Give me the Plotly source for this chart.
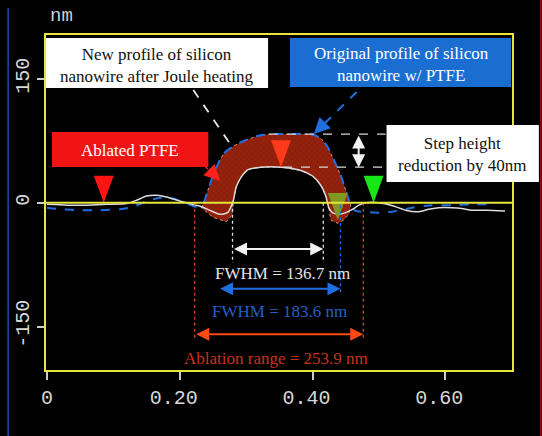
import plotly.graph_objects as go

# ---- height profiles (x in µm, height in nm) ----
orig_x = [0.000, 0.020, 0.050, 0.080, 0.110, 0.130, 0.150, 0.170, 0.190, 0.210, 0.225, 0.235,
          0.240, 0.2475, 0.2565, 0.2655, 0.282, 0.297, 0.318, 0.3375, 0.3675, 0.3975, 0.4125,
          0.423, 0.432, 0.4425, 0.450, 0.4575, 0.465, 0.480, 0.500, 0.520, 0.550, 0.580,
          0.610, 0.640, 0.668]
orig_nm = [-6, -8, -9, -9, -8, -5, 2, 6, 5, -1, -5, -2,
           9, 27, 45, 59, 69, 75, 81, 83, 83, 83, 78,
           67, 52, 33, 15, -3, -10, -11, -12, -11, -6, -3,
           -3, -2, -2]

new_x = [0.000, 0.030, 0.060, 0.090, 0.120, 0.135, 0.150, 0.165, 0.180, 0.200, 0.215, 0.230,
         0.245, 0.260, 0.272, 0.2805, 0.285, 0.2925, 0.303, 0.3225, 0.3525, 0.3825, 0.4005,
         0.4125, 0.420, 0.4245, 0.430, 0.440, 0.450, 0.460, 0.470, 0.480, 0.500, 0.522,
         0.540, 0.558, 0.575, 0.590, 0.610, 0.625, 0.640, 0.663, 0.690]
new_nm = [-2, -3, -3, -2, -1, 3, 8, 9, 7, 2, -1, -4,
          -9, -14, -12, 2, 19, 31, 40, 43, 43, 39, 32,
          21, 8, -6, -12, -14, -12, -8, -3, 0, 0, -4,
          -9, -11, -8, -6, -6, -7, -9, -9, -10]

# outline of the ablated PTFE band
abl_x = [0.2325, 0.2355, 0.240, 0.2475, 0.2565, 0.2655, 0.282, 0.297, 0.318, 0.3375, 0.3675,
         0.3975, 0.4125, 0.423, 0.432, 0.4425, 0.450, 0.4575, 0.4545, 0.447, 0.438, 0.4275,
         0.4245, 0.420, 0.4125, 0.4005, 0.3825, 0.3525, 0.3225, 0.303, 0.2925, 0.285, 0.2805,
         0.279, 0.270, 0.2505, 0.2325]
abl_nm = [-6, -1, 9, 27, 45, 59, 69, 75, 81, 83, 83,
          83, 78, 67, 52, 33, 15, -3, -14, -21, -25, -21,
          -6, 8, 21, 32, 39, 43, 43, 40, 31, 19, 2,
          -15, -23, -18, -6]

# measured widths (µm) and their centres
fwhm_new = 0.1367
fwhm_orig = 0.1836
ablation = 0.2539
centre_new = 0.34785
centre_orig = 0.3503
centre_abl = 0.3495

# triangle markers: apex x, apex y
mark_x = [0.0855, 0.3525, 0.492, 0.438]
mark_nm = [0, 43, 0, -21]
mark_color = ["#ff1414", "#ff3a1a", "#17e617", "#7f9a1e"]

x_ticks = [0, 0.2, 0.4, 0.6]
x_ticktext = ["0", "0.20\u00a0", "0.40\u00a0", "0.60\u00a0"]
y_ticks = [-150, 0, 150]
y_ticktext = ["-150", "0", "150"]

# ---- page geometry ----
WIDTH, HEIGHT = 542, 436
L, R, T, B = 44, 30, 35, 66
PW, PH = WIDTH - L - R, HEIGHT - T - B
XR = [-0.0015, 0.7005]
YR = [-202.4, 202.9]
XS = (XR[1] - XR[0]) / PW
YS = (YR[1] - YR[0]) / PH

YELLOW = "#e6e63a"
SERIF = "Liberation Serif"
MONO = "Liberation Mono"


def px(xp):
    return (xp - L) / PW


def py(yp):
    return 1 - (yp - T) / PH


def dx(xp):
    return XR[0] + (xp - L) * XS


def dy(yp):
    return YR[1] - (yp - T) * YS


fig = go.Figure()

fig.add_trace(go.Scatter(
    x=abl_x, y=abl_nm, mode="lines", fill="toself", fillcolor="#8e1f0a",
    fillpattern=dict(shape="x", fgcolor="#a8351a", bgcolor="#8e1f0a", size=4, solidity=0.25),
    line=dict(color="rgba(235,195,180,0.75)", width=1, dash="dot"),
    hoverinfo="skip", showlegend=False))

fig.add_trace(go.Scatter(
    x=orig_x, y=orig_nm, mode="lines",
    line=dict(color="#1f6fe0", width=2, dash="dash", shape="spline", smoothing=0.6),
    showlegend=False))

fig.add_trace(go.Scatter(
    x=new_x, y=new_nm, mode="lines",
    line=dict(color="#dcdcdc", width=1.5, shape="spline", smoothing=0.6),
    showlegend=False))

shapes = []

# triangle markers
for xa, ya, col in zip(mark_x, mark_nm, mark_color):
    hw = 10 * XS
    h = 27 * YS
    shapes.append(dict(type="path", xref="x", yref="y",
                       path=f"M {xa - hw},{ya + h} L {xa + hw},{ya + h} L {xa},{ya} Z",
                       fillcolor=col, line=dict(width=0), layer="above"))

# width markers (vertical dashed lines)
new_l, new_r = centre_new - fwhm_new / 2, centre_new + fwhm_new / 2
orig_l, orig_r = centre_orig - fwhm_orig / 2, centre_orig + fwhm_orig / 2
abl_l, abl_r = centre_abl - ablation / 2, centre_abl + ablation / 2
y_new_arrow, y_orig_arrow, y_abl_arrow = -56, -104, -159

for xv, y0, y1, col in [(new_l, 0, -73, "#e0e0e0"), (new_r, 0, -73, "#e0e0e0"),
                        (orig_r, -3, -108, "#1f6fe0"),
                        (abl_l, 0, -166, "#e0401c"), (abl_r, 0, -166, "#e0401c")]:
    shapes.append(dict(type="line", xref="x", yref="y", x0=xv, x1=xv, y0=y0, y1=y1,
                       line=dict(color=col, width=1.3, dash="dot"), layer="above"))

# step-height reference lines
top_orig = max(orig_nm)
top_new = max(new_nm)
shapes.append(dict(type="line", xref="x", yref="y", x0=dx(268), x1=dx(385), y0=top_orig, y1=top_orig,
                   line=dict(color="#d8d8d8", width=1.3, dash="dash"), layer="above"))
shapes.append(dict(type="line", xref="x", yref="y", x0=dx(282), x1=dx(385), y0=top_new, y1=top_new,
                   line=dict(color="#d8d8d8", width=1.3, dash="dash"), layer="above"))

# callout leader lines
shapes.append(dict(type="line", xref="x", yref="y", x0=dx(192), y0=dy(90), x1=dx(231), y1=dy(147),
                   line=dict(color="#e8e8e8", width=1.8, dash="dash"), layer="above"))
shapes.append(dict(type="line", xref="x", yref="y", x0=dx(356), y0=dy(92), x1=dx(318), y1=dy(129),
                   line=dict(color="#1f6fe0", width=2, dash="dash"), layer="above"))
shapes.append(dict(type="line", xref="x", yref="y", x0=dx(200), y0=dy(163), x1=dx(214), y1=dy(176),
                   line=dict(color="#ff2020", width=1.5, dash="dot"), layer="above"))

# zero line
shapes.append(dict(type="line", xref="paper", yref="y", x0=0, x1=1, y0=0, y1=0,
                   line=dict(color=YELLOW, width=2), layer="above"))

# callout boxes
for x0, x1, y0, y1, col in [(44, 267, 38, 88, "#ffffff"), (289, 511, 38, 87, "#1a6ed2"),
                            (50, 207, 132, 167, "#f01414"), (386, 539, 125, 182, "#ffffff")]:
    shapes.append(dict(type="rect", xref="paper", yref="paper",
                       x0=px(x0), x1=px(x1), y0=py(y1), y1=py(y0),
                       fillcolor=col, line=dict(width=0), layer="above"))

# page edges
shapes.append(dict(type="line", xref="paper", yref="paper", x0=px(6), x1=px(6), y0=py(436), y1=py(8),
                   line=dict(color="#2048b0", width=1.5)))
shapes.append(dict(type="line", xref="paper", yref="paper", x0=px(541), x1=px(541), y0=py(436), y1=py(0),
                   line=dict(color="#a01010", width=1.5)))

ann = []


def text(xp, yp, s, color, size=17, family=SERIF):
    ann.append(dict(xref="paper", yref="paper", x=px(xp), y=py(yp), text=s, showarrow=False,
                    font=dict(family=family, size=size, color=color), xanchor="center", yanchor="middle"))


text(155, 65, "New profile of silicon<br>nanowire after Joule heating", "#111111")
text(401, 64, "Original profile of silicon<br>nanowire w/ PTFE", "#ffffff")
text(128, 150, "Ablated PTFE", "#ffffff")
text(462, 154, "Step height<br>reduction by 40nm", "#111111")
text(282, 273, "FWHM = 136.7 nm", "#e6e6e6")
text(278, 311, "FWHM = 183.6 nm", "#2060c8")
text(275, 358, "Ablation range = 253.9 nm", "#c83218")
text(60, 16, "nm", "#d0d0d0", size=19, family=MONO)


def double_arrow(x0, y0, x1, y1, color):
    ann.append(dict(x=x1, y=y1, ax=x0, ay=y0, xref="x", yref="y", axref="x", ayref="y",
                    text="", showarrow=True, arrowside="end+start", arrowhead=2,
                    arrowsize=1.3, arrowwidth=2, arrowcolor=color))


double_arrow(new_l, y_new_arrow, new_r, y_new_arrow, "#f2f2f2")
double_arrow(orig_l, y_orig_arrow, orig_r, y_orig_arrow, "#1f6fe0")
double_arrow(abl_l, y_abl_arrow, abl_r, y_abl_arrow, "#ff4a14")
double_arrow(dx(358), top_orig, dx(358), top_new, "#f2f2f2")

# arrow heads on the callout leaders
ann.append(dict(x=dx(313), y=dy(134), ax=9, ay=-9, xref="x", yref="y", text="", showarrow=True,
                arrowhead=2, arrowsize=1.6, arrowwidth=2, arrowcolor="#1f6fe0"))
ann.append(dict(x=dx(219), y=dy(181), ax=-7, ay=-7, xref="x", yref="y", text="", showarrow=True,
                arrowhead=2, arrowsize=1.6, arrowwidth=2, arrowcolor="#ff2020"))

fig.update_layout(
    width=WIDTH, height=HEIGHT,
    margin=dict(l=L, r=R, t=T, b=B),
    paper_bgcolor="#000000", plot_bgcolor="#000000",
    shapes=shapes, annotations=ann, showlegend=False,
    xaxis=dict(range=XR, tickvals=x_ticks, ticktext=x_ticktext, ticks="outside", ticklen=8,
               tickwidth=1.5, tickcolor="#cccccc", showline=True, linecolor=YELLOW, linewidth=2,
               mirror=True, showgrid=False, zeroline=False,
               tickfont=dict(family=MONO, size=20, color="#d8d8d8")),
    yaxis=dict(range=YR, tickvals=y_ticks, ticktext=y_ticktext, ticks="outside", ticklen=7,
               tickwidth=1.5, tickcolor="#cccccc", tickangle=-90, showline=True, linecolor=YELLOW,
               linewidth=2, mirror=True, showgrid=False, zeroline=False,
               tickfont=dict(family=MONO, size=20, color="#d8d8d8")),
)

fig.write_html("out.html")
